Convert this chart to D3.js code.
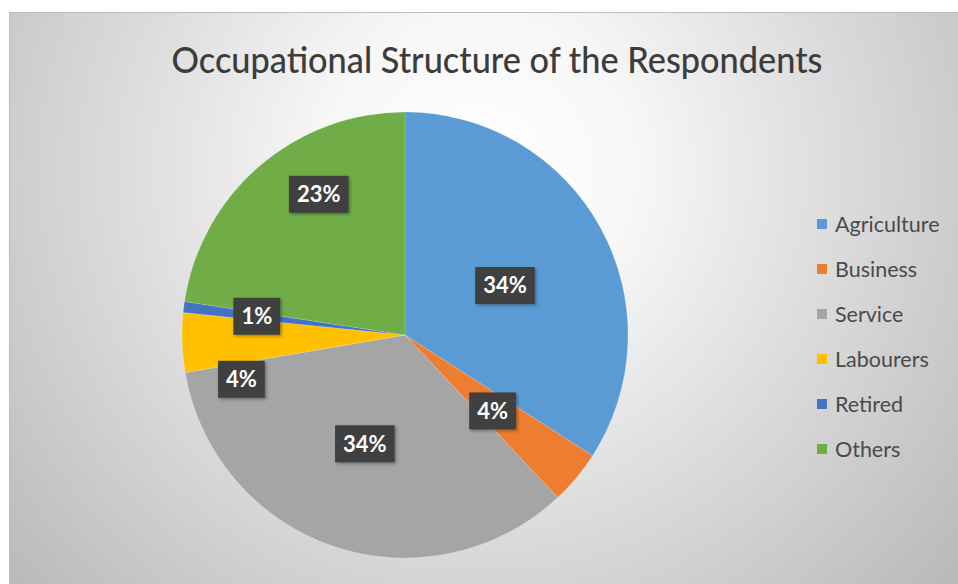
<!DOCTYPE html>
<html><head><meta charset="utf-8">
<script src="https://cdn.jsdelivr.net/npm/d3@7"></script>
<style>html,body{margin:0;padding:0;background:#fff;}svg{display:block;}</style>
</head><body>
<svg id="chart" width="958" height="584"></svg>
<script>
const title = "Occupational Structure of the Respondents";
const categories = ["Agriculture", "Business", "Service", "Labourers", "Retired", "Others"];
const values = [34.1, 3.9, 34.3, 4.3, 0.8, 22.6];
const labels = ["34%", "4%", "34%", "4%", "1%", "23%"];
const colors = ["#5B9BD5", "#ED7D31", "#A5A5A5", "#FFC000", "#4472C4", "#70AD47"];

const W = 958, H = 584;
const svg = d3.select("#chart");
const defs = svg.append("defs");
const grad = defs.append("radialGradient").attr("id", "bg")
  .attr("gradientUnits", "userSpaceOnUse")
  .attr("cx", 480).attr("cy", 170).attr("r", 620);
grad.append("stop").attr("offset", 0).attr("stop-color", "#ffffff");
grad.append("stop").attr("offset", 0.25).attr("stop-color", "#f7f7f7");
grad.append("stop").attr("offset", 0.6).attr("stop-color", "#dadada");
grad.append("stop").attr("offset", 1).attr("stop-color", "#bababa");

const shadow = defs.append("filter").attr("id", "sh").attr("x", "-20%").attr("y", "-20%").attr("width", "150%").attr("height", "150%");
shadow.append("feDropShadow").attr("dx", 1.5).attr("dy", 1.5).attr("stdDeviation", 1.5).attr("flood-color", "#000").attr("flood-opacity", 0.35);

svg.append("rect").attr("x", 9.5).attr("y", 12.5).attr("width", W).attr("height", H)
  .attr("fill", "url(#bg)").attr("stroke", "#bcbcbc").attr("stroke-width", 1);

const font = "Lato, 'Open Sans', 'DejaVu Sans', sans-serif";

// Title
svg.append("text").attr("x", 497).attr("y", 73).attr("text-anchor", "middle")
  .attr("font-family", font).attr("font-size", 37).attr("font-weight", 500).attr("fill", "#3c3c3c")
  .attr("textLength", 651).attr("lengthAdjust", "spacingAndGlyphs").text(title);

// Pie
const cx = 405, cy = 335, R = 223;
const pie = d3.pie().sort(null).value(d => d)(values);
const arc = d3.arc().innerRadius(0).outerRadius(R);
const g = svg.append("g").attr("transform", `translate(${cx},${cy})`);
g.selectAll("path").data(pie).join("path")
  .attr("d", arc).attr("fill", (d, i) => colors[i])
  .attr("stroke", "rgba(255,255,255,0.25)").attr("stroke-width", 0.6);

// Labels (best-fit style placement)
const labelRadius = [0.5, 0.52, 0.52, 0.76, 0.67, 0.74];
const angleShift = [0.04, 0.02, 0.03, -0.23, 0.0, 0.16];
pie.forEach((d, i) => {
  const a = (d.startAngle + d.endAngle) / 2 + angleShift[i];
  const r = R * labelRadius[i];
  const x = r * Math.sin(a), y = -r * Math.cos(a);
  const lg = g.append("g").attr("transform", `translate(${x},${y})`);
  const txt = lg.append("text").attr("text-anchor", "middle").attr("dy", "0.36em")
    .attr("font-family", font).attr("font-weight", "bold").attr("font-size", 22)
    .attr("fill", "#ffffff").text(labels[i]);
  const bw = txt.node().getComputedTextLength() + 16, bh = 37;
  lg.insert("rect", "text").attr("x", -bw / 2).attr("y", -bh / 2)
    .attr("width", bw).attr("height", bh).attr("fill", "#404040").attr("filter", "url(#sh)");
});

// Legend
const leg = svg.append("g").attr("transform", "translate(817,224)");
categories.forEach((c, i) => {
  const row = leg.append("g").attr("transform", `translate(0,${i * 45})`);
  row.append("rect").attr("x", 0).attr("y", -5).attr("width", 10).attr("height", 10).attr("fill", colors[i]);
  row.append("text").attr("x", 18).attr("y", 0).attr("dy", "0.36em")
    .attr("font-family", font).attr("font-size", 21.5).attr("fill", "#4a4a4a").text(c);
});
</script>
</body></html>
